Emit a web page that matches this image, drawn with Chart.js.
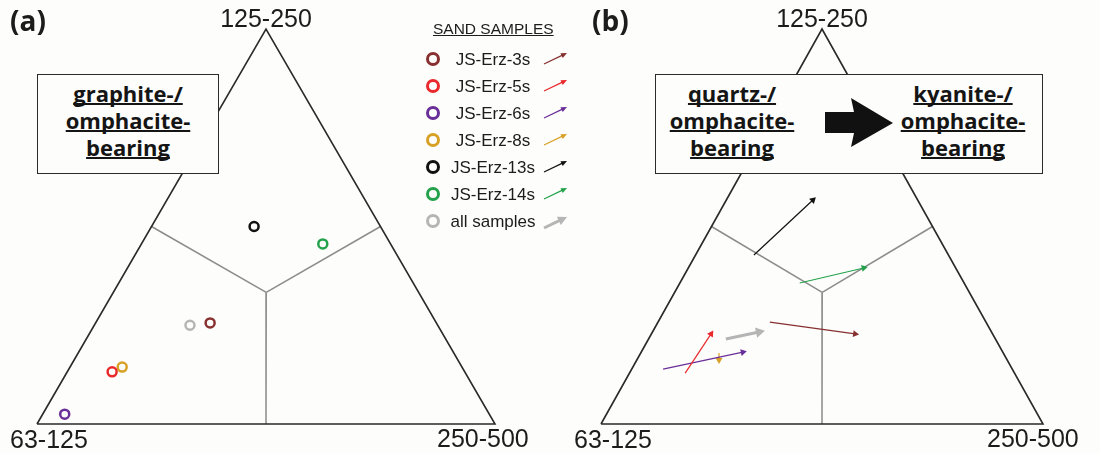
<!DOCTYPE html>
<html>
<head>
<meta charset="utf-8">
<script src="https://cdn.jsdelivr.net/npm/chart.js@4.4.1/dist/chart.umd.min.js"></script>
<style>
  html, body { margin: 0; padding: 0; background: #fdfdfb; }
  #wrap { position: relative; width: 1100px; height: 454px; overflow: hidden;
          font-family: "Liberation Sans", Arial, sans-serif; color: #1c1c1c; }
  canvas { position: absolute; top: 0; }
  #chartA { left: 0; }
  #chartB { left: 560px; }
  .lbl { position: absolute; font-size: 25px; line-height: 1; white-space: nowrap; }
  .tag { position: absolute; top: 6px; font-family: "Open Sans", sans-serif; font-weight: 700;
         font-size: 28px; line-height: 1; }
  .box { position: absolute; top: 74px; height: 100px; box-sizing: border-box;
         border: 1.5px solid #2b2b2b; background: #fdfdfb; }
  .boxtxt { position: absolute; top: 80px; transform: translateX(-50%);
            font-family: "Open Sans", sans-serif; font-weight: 700; font-size: 22px;
            line-height: 27px; text-align: center; white-space: nowrap;
            text-decoration: underline; text-decoration-thickness: 2px;
            text-decoration-skip-ink: none; color: #151515; }
  #legend { position: absolute; left: 0; top: 0; }
  .lhead { position: absolute; left: 433px; width: 120px; top: 21px; text-align: center;
           font-size: 15.5px; line-height: 1; text-decoration: underline; white-space: nowrap; }
  .lrow-dot { position: absolute; width: 14px; height: 14px; box-sizing: border-box;
              border-radius: 50%; border: 3px solid; }
  .lrow-txt { position: absolute; left: 443px; width: 100px; text-align: center;
              font-size: 17px; line-height: 1; white-space: nowrap; }
  svg { position: absolute; overflow: visible; }
</style>
</head>
<body>
<div id="wrap">
  <canvas id="chartA" width="560" height="454"></canvas>
  <canvas id="chartB" width="540" height="454"></canvas>

  <div class="tag" style="left:10px">(a)</div>
  <div class="tag" style="left:592px">(b)</div>

  <div class="lbl" style="left:266px;top:6px;transform:translateX(-50%)" id="topA"></div>
  <div class="lbl" style="left:10px;top:427px" id="leftA"></div>
  <div class="lbl" style="left:437px;top:426px" id="rightA"></div>
  <div class="lbl" style="left:822px;top:6px;transform:translateX(-50%)" id="topB"></div>
  <div class="lbl" style="left:574px;top:427px" id="leftB"></div>
  <div class="lbl" style="left:987px;top:426px" id="rightB"></div>

  <div class="box" style="left:37px;width:182px"></div>
  <div class="boxtxt" style="left:128px">graphite-/<br>omphacite-<br>bearing</div>

  <div class="box" style="left:655px;width:388px"></div>
  <div class="boxtxt" style="left:732px">quartz-/<br>omphacite-<br>bearing</div>
  <div class="boxtxt" style="left:963px">kyanite-/<br>omphacite-<br>bearing</div>
  <svg width="1100" height="454" style="left:0;top:0">
    <polygon points="825,112 854,112 851,98 893,123 851,147 854,133 825,133" fill="#111"/>
  </svg>

  <div id="legend">
    <div class="lhead">SAND SAMPLES</div>
  </div>
</div>

<script>
// corner labels of the ternary plot: [bottom-left, top, bottom-right]
const cornerLabels = ["63-125", "125-250", "250-500"];

const sampleNames = ["JS-Erz-3s", "JS-Erz-5s", "JS-Erz-6s", "JS-Erz-8s", "JS-Erz-13s", "JS-Erz-14s", "all samples"];
const sampleColors = ["#86302f", "#e9292b", "#6a2e98", "#d8a126", "#111111", "#23a24b", "#b5b5b5"];

// compositions in % as [63-125, 125-250, 250-500]
const compA = [
  [49.4, 25.6, 25.0],
  [77.0, 13.2, 9.8],
  [92.7, 2.5, 4.8],
  [74.2, 14.4, 11.4],
  [27.6, 50.0, 22.4],
  [14.8, 45.6, 39.6],
  [54.1, 25.0, 20.9]
];

// panel (b): shift of each sample, start -> end
const shiftFrom = [
  [48.9, 25.8, 25.3],
  [74.5, 12.9, 12.6],
  [79.0, 13.9, 7.1],
  [64.3, 18.0, 17.7],
  [44.0, 42.8, 13.2],
  [37.2, 35.7, 27.1],
  [61.0, 21.5, 17.5]
];
const shiftTo = [
  [31.1, 22.8, 46.1],
  [63.7, 22.8, 13.5],
  [58.8, 18.2, 23.0],
  [65.2, 16.2, 18.6],
  [23.7, 56.7, 19.6],
  [20.8, 39.5, 39.7],
  [52.6, 23.3, 24.1]
];

const outline = [[100, 0, 0], [0, 100, 0], [0, 0, 100], [100, 0, 0]];
const centroid = [33.3, 33.3, 33.4];
const fieldEnds = [[50, 50, 0], [0, 50, 50], [50, 0, 50]];

function toXY(t) {
  return { x: t[2] + t[1] / 2, y: t[1] };
}

// labels
["A", "B"].forEach(p => {
  document.getElementById("left" + p).textContent = cornerLabels[0];
  document.getElementById("top" + p).textContent = cornerLabels[1];
  document.getElementById("right" + p).textContent = cornerLabels[2];
});

// legend
const legend = document.getElementById("legend");
const rowY = [59, 86, 113, 140, 167, 194, 221];
sampleNames.forEach((name, i) => {
  const y = rowY[i];
  const dot = document.createElement("div");
  dot.className = "lrow-dot";
  dot.style.left = "426px";
  dot.style.top = (y - 7) + "px";
  dot.style.borderColor = sampleColors[i];
  legend.appendChild(dot);

  const txt = document.createElement("div");
  txt.className = "lrow-txt";
  txt.style.top = (y - 8) + "px";
  txt.textContent = name;
  legend.appendChild(txt);

  const thick = i === sampleNames.length - 1;
  const x0 = 544, y0 = y + (thick ? 7 : 5), x1 = 567, y1 = y - (thick ? 4 : 6);
  const len = Math.hypot(x1 - x0, y1 - y0);
  const ux = (x1 - x0) / len, uy = (y1 - y0) / len;
  const hl = thick ? 9 : 6, hw = thick ? 4.5 : 2.6;
  const bx = x1 - ux * hl, by = y1 - uy * hl;
  const svg = document.createElementNS("http://www.w3.org/2000/svg", "svg");
  svg.setAttribute("width", "1100");
  svg.setAttribute("height", "454");
  svg.style.left = "0px";
  svg.style.top = "0px";
  svg.innerHTML =
    `<line x1="${x0}" y1="${y0}" x2="${bx + ux * 1}" y2="${by + uy * 1}" stroke="${sampleColors[i]}" stroke-width="${thick ? 3 : 1.2}"/>` +
    `<polygon points="${x1},${y1} ${bx - uy * hw},${by + ux * hw} ${bx + uy * hw},${by - ux * hw}" fill="${sampleColors[i]}"/>`;
  legend.appendChild(svg);
});

function frameDatasets() {
  const sets = [{
    data: outline.map(toXY),
    showLine: true, borderColor: "#2a2a2a", borderWidth: 1.6, pointRadius: 0, clip: false
  }];
  fieldEnds.forEach(e => {
    sets.push({
      data: [toXY(centroid), toXY(e)],
      showLine: true, borderColor: "#8c8c8c", borderWidth: 1.5, pointRadius: 0, clip: false
    });
  });
  return sets;
}

function baseOptions(pad) {
  return {
    responsive: false,
    animation: false,
    devicePixelRatio: 1,
    layout: { padding: pad },
    plugins: { legend: { display: false }, tooltip: { enabled: false } },
    scales: {
      x: { type: "linear", min: 0, max: 100, display: false },
      y: { type: "linear", min: 0, max: 100, display: false }
    }
  };
}

// panel (a)
const pointSets = compA.map((c, i) => ({
  data: [toXY(c)],
  pointStyle: "circle",
  pointRadius: 4.5,
  pointBorderWidth: 2.5,
  pointBorderColor: sampleColors[i],
  pointBackgroundColor: "rgba(0,0,0,0)",
  clip: false
}));

new Chart(document.getElementById("chartA"), {
  type: "scatter",
  data: { datasets: pointSets.concat(frameDatasets()) },
  options: baseOptions({ left: 37, right: 65, top: 29, bottom: 30 })
});

// panel (b)
function headRotation(ctx) {
  if (ctx.type !== "data") return 0;
  const d = ctx.chart.data.datasets[ctx.datasetIndex].data;
  const sx = ctx.chart.scales.x, sy = ctx.chart.scales.y;
  const dx = sx.getPixelForValue(d[1].x) - sx.getPixelForValue(d[0].x);
  const dy = sy.getPixelForValue(d[1].y) - sy.getPixelForValue(d[0].y);
  return Math.atan2(dx, -dy) * 180 / Math.PI;
}

const arrowSets = shiftFrom.map((c, i) => {
  const thick = i === shiftFrom.length - 1;
  return {
    data: [toXY(c), toXY(shiftTo[i])],
    showLine: true,
    borderColor: sampleColors[i],
    borderWidth: thick ? 3 : 1.2,
    pointStyle: "triangle",
    pointRadius: [0, thick ? 6 : 4],
    pointBorderWidth: 0,
    pointBackgroundColor: sampleColors[i],
    pointRotation: headRotation,
    clip: false
  };
});

new Chart(document.getElementById("chartB"), {
  type: "scatter",
  data: { datasets: arrowSets.concat(frameDatasets()) },
  options: baseOptions({ left: 41, right: 57, top: 29, bottom: 30 })
});
</script>
</body>
</html>
